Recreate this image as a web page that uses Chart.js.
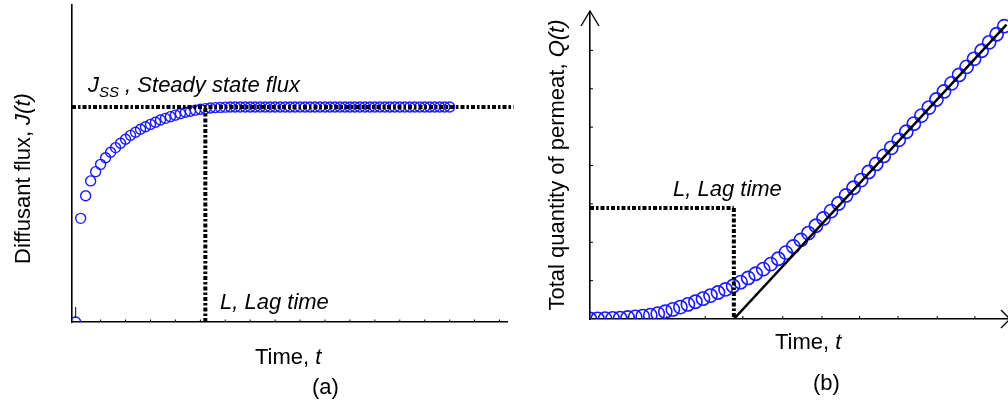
<!DOCTYPE html>
<html>
<head>
<meta charset="utf-8">
<script src="https://cdn.jsdelivr.net/npm/chart.js@4.4.1/dist/chart.umd.min.js"></script>
<style>
  html, body { margin: 0; padding: 0; background: #fff; }
  #wrap { position: relative; width: 1008px; height: 404px; overflow: hidden; }
  .panel { position: absolute; top: 0; height: 404px; }
  #pa { left: 0; width: 520px; }
  #pb { left: 520px; width: 488px; }
</style>
</head>
<body>
<div id="wrap">
  <div class="panel" id="pa"><canvas id="ca"></canvas></div>
  <div class="panel" id="pb"><canvas id="cb"></canvas></div>
</div>
<script>
// ---------- (a) diffusant flux J(t), in units of the steady-state flux ----------
const timeA = [0,1,2,3,4,5,6,7,8,9,10,11,12,13,14,15,16,17,18,19,20,21,22,23,24,25,
  26,27,28,29,30,31,32,33,34,35,36,37,38,39,40,41,42,43,44,45,46,47,48,49,50,
  51,52,53,54,55,56,57,58,59,60,61,62,63,64,65,66,67,68,69,70,71,72,73,74,75];
const fluxA = [0,0.482,0.587,0.656,0.699,0.733,0.764,0.789,0.811,0.831,0.850,0.868,
  0.882,0.896,0.908,0.919,0.929,0.939,0.947,0.955,0.962,0.969,0.975,0.980,0.985,
  0.989,0.992,0.995,0.997,0.998,0.999,1,1,1,1,1,1,1,1,1,1,1,1,1,1,1,1,1,1,1,1,
  1,1,1,1,1,1,1,1,1,1,1,1,1,1,1,1,1,1,1,1,1,1,1,1,1];
const jssA = 1;             // steady-state flux level
const lagA = 26;            // lag time
const jssSpanA = [-0.74, 87.8];
const tickTimeA = [5,10,15,20,25,30,35,40,45,50,55,60,65,70,75,80,85];

// ---------- (b) total quantity of permeant Q(t) ----------
const timeB = [0,1,2,3,4,5,6,7,8,9,10,11,12,13,14,15,16,17,18,19,20,21,22,23,24,25,
  26,27,28,29,30,31,32,33,34,35,36,37,38,39,40,41,42,43,44,45,46,47,48,49,50,
  51,52,53,54,55];
const quantB = [0,0.005,0.01,0.015,0.025,0.04,0.055,0.075,0.10,0.14,0.19,0.25,0.31,
  0.38,0.45,0.53,0.61,0.69,0.77,0.86,0.96,1.07,1.18,1.30,1.43,1.57,1.73,1.89,2.06,
  2.24,2.43,2.62,2.81,3.01,3.22,3.42,3.62,3.83,4.04,4.25,4.46,4.67,4.88,5.09,5.30,
  5.51,5.72,5.93,6.14,6.36,6.57,6.78,6.99,7.21,7.42,7.63];
const lagB = 19.1;          // intercept of the steady-state asymptote
const lagLevelB = 2.89;     // height of the lag-time bracket
const asymT = [19.1, 55.3];
const asymQ = [0, 7.67];
const tickTimeB = [5.05,10.2,15.3,20.3,25.6,30.8,35.8,40.9,46.1,51.1];
const tickQB = [1,2,3,4,5,6,7];

const FONT = '"Liberation Sans", Arial, Helvetica, sans-serif';
const pts = (xs, ys) => xs.map((x, i) => ({ x: x, y: ys[i] }));

// draw a run of text pieces (plain / italic / subscript) starting at x
function drawRuns(ctx, parts, x, y, align, rotate) {
  ctx.save();
  ctx.translate(x, y);
  if (rotate) ctx.rotate(-Math.PI / 2);
  ctx.fillStyle = '#000';
  ctx.textBaseline = 'alphabetic';
  ctx.textAlign = 'left';
  let total = 0;
  parts.forEach(p => {
    ctx.font = (p.it ? 'italic ' : '') + (p.size || 22) + 'px ' + FONT;
    p.w = ctx.measureText(p.t).width;
    total += p.w;
  });
  let cx = align === 'center' ? -total / 2 : 0;
  parts.forEach(p => {
    ctx.font = (p.it ? 'italic ' : '') + (p.size || 22) + 'px ' + FONT;
    ctx.fillText(p.t, cx, p.dy || 0);
    cx += p.w;
  });
  ctx.restore();
}

function line(ctx, x1, y1, x2, y2, w) {
  ctx.beginPath();
  ctx.moveTo(x1, y1);
  ctx.lineTo(x2, y2);
  ctx.lineWidth = w;
  ctx.strokeStyle = '#000';
  ctx.stroke();
}

const dotted = { borderColor: '#000', borderWidth: 4, borderDash: [4, 2, 2.5, 2],
  pointRadius: 0, showLine: true, fill: false, clip: false };

function baseOptions(pad, xr, yr) {
  return {
    responsive: true, maintainAspectRatio: false, animation: false,
    devicePixelRatio: 1, events: [],
    layout: { autoPadding: false, padding: pad },
    plugins: { legend: { display: false }, tooltip: { enabled: false } },
    scales: {
      x: { type: 'linear', min: xr[0], max: xr[1],
           grid: { display: false, drawTicks: false }, ticks: { display: false },
           border: { display: true, color: '#000', width: 1.6 } },
      y: { type: 'linear', min: yr[0], max: yr[1],
           grid: { display: false, drawTicks: false }, ticks: { display: false },
           border: { display: true, color: '#000', width: 1.6 } }
    }
  };
}

// ---------- chart (a) ----------
const decorA = {
  id: 'decorA',
  afterDraw(chart) {
    const { ctx, scales: { x, y } } = chart;
    const y0 = y.getPixelForValue(0);
    tickTimeA.forEach(t => {
      const px = x.getPixelForValue(t);
      line(ctx, px, y0, px, y0 - 2.5, 1);
    });
    // small mark at the origin
    const ox = x.getPixelForValue(0);
    line(ctx, ox, y0 - 4, ox, y0 - 15, 1);

    drawRuns(ctx, [
      { t: 'J', it: true },
      { t: 'SS', it: true, size: 15, dy: 5 },
      { t: ' , Steady state flux', it: true }
    ], 88, 92, 'left');
    drawRuns(ctx, [{ t: 'L, Lag time', it: true }], 220, 309, 'left');
    drawRuns(ctx, [{ t: 'Time, ' }, { t: 't', it: true }], 255, 364, 'left');
    drawRuns(ctx, [{ t: '(a)' }], 312, 394, 'left');
    drawRuns(ctx, [{ t: 'Diffusant flux, ' }, { t: 'J(t)', it: true }], 29.5, 178.5, 'center', true);
  }
};

new Chart(document.getElementById('ca'), {
  type: 'scatter',
  data: {
    datasets: [
      Object.assign({ data: pts(jssSpanA, [jssA, jssA]) }, dotted),
      Object.assign({ data: pts([lagA, lagA], [0, jssA]) }, dotted),
      { data: pts(timeA, fluxA), showLine: false, pointStyle: 'circle',
        pointRadius: 5, pointBorderWidth: 1.4, borderColor: '#1a1aff',
        pointBorderColor: '#1a1aff', backgroundColor: 'rgba(0,0,0,0)',
        pointBackgroundColor: 'rgba(0,0,0,0)' }
    ]
  },
  options: baseOptions({ left: 72, right: 13, top: 5, bottom: 82 }, [-0.74, 86.5], [0, 1.474]),
  plugins: [decorA]
});

// ---------- chart (b) ----------
const OFF_B = 520;
const decorB = {
  id: 'decorB',
  afterDraw(chart) {
    const { ctx, scales: { x, y }, chartArea: ca } = chart;
    const y0 = y.getPixelForValue(0);
    const x0 = x.getPixelForValue(0);
    tickTimeB.forEach(t => {
      const px = x.getPixelForValue(t);
      line(ctx, px, y0, px, y0 - 3, 1);
    });
    tickQB.forEach(q => {
      const py = y.getPixelForValue(q);
      line(ctx, x0, py, x0 + 3, py, 1);
    });
    // axis arrow heads
    line(ctx, x0, ca.top, x0, ca.top - 1, 1.6);
    ctx.beginPath();
    ctx.moveTo(x0 - 9, ca.top + 14); ctx.lineTo(x0, ca.top - 1); ctx.lineTo(x0 + 9, ca.top + 14);
    ctx.lineWidth = 1.4; ctx.strokeStyle = '#000'; ctx.stroke();
    ctx.beginPath();
    ctx.moveTo(ca.right - 7, y0 - 9); ctx.lineTo(ca.right + 2, y0); ctx.lineTo(ca.right - 7, y0 + 9);
    ctx.stroke();

    drawRuns(ctx, [{ t: 'L, Lag time', it: true }], 673 - OFF_B, 196, 'left');
    drawRuns(ctx, [{ t: 'Time, ' }, { t: 't', it: true }], 775 - OFF_B, 348.5, 'left');
    drawRuns(ctx, [{ t: '(b)' }], 813 - OFF_B, 390, 'left');
    drawRuns(ctx, [{ t: 'Total quantity of permeat, ' }, { t: 'Q(t)', it: true }],
      564 - OFF_B, 165, 'center', true);
  }
};

new Chart(document.getElementById('cb'), {
  type: 'scatter',
  data: {
    datasets: [
      { data: pts(asymT, asymQ), showLine: true, borderColor: '#000', borderWidth: 2.5,
        pointRadius: 0, fill: false },
      Object.assign({ data: pts([0, lagB], [lagLevelB, lagLevelB]) }, dotted),
      Object.assign({ data: pts([lagB, lagB], [lagLevelB, 0]) }, dotted),
      { data: pts(timeB, quantB), showLine: false, pointStyle: 'circle',
        pointRadius: 6.6, pointBorderWidth: 1.6, borderColor: '#1a1aff',
        pointBorderColor: '#1a1aff', backgroundColor: 'rgba(0,0,0,0)',
        pointBackgroundColor: 'rgba(0,0,0,0)' }
    ]
  },
  options: baseOptions({ left: 70, right: 0, top: 12, bottom: 85 }, [0, 55.5], [0, 8]),
  plugins: [decorB]
});
</script>
</body>
</html>
